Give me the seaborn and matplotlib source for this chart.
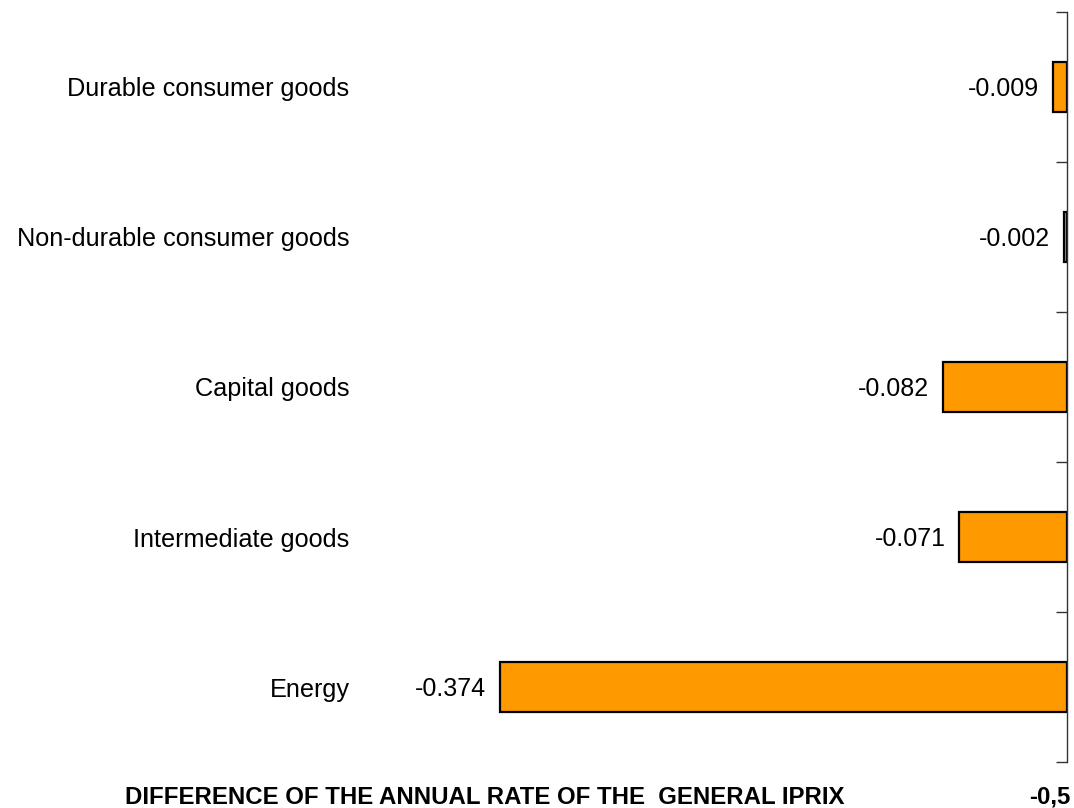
import matplotlib
matplotlib.use("Agg")
import matplotlib.pyplot as plt
import seaborn as sns
import pandas as pd
import numpy as np

categories = ["Durable consumer goods", "Non-durable consumer goods", "Capital goods",
              "Intermediate goods", "Energy"]
values = [-0.009, -0.002, -0.082, -0.071, -0.374]
value_labels = ["-0.009", "-0.002", "-0.082", "-0.071", "-0.374"]
xlabel = "DIFFERENCE OF THE ANNUAL RATE OF THE  GENERAL IPRIX"
xmin_label = "-0,5"

sns.set_style("white")
plt.rcParams['font.family'] = ['Liberation Sans', 'DejaVu Sans']
plt.rcParams['text.color'] = 'black'
plt.rcParams['ytick.color'] = 'black'

df = pd.DataFrame({"cat": categories, "val": values})

W, H = 1074, 808
fig = plt.figure(figsize=(W / 100, H / 100), dpi=100)
ax = fig.add_axes([360 / W, (H - 762) / H, (1067 - 360) / W, (762 - 12) / H])

sns.barplot(data=df, x="val", y="cat", orient="h", color="#FF9900",
            width=1 / 3, edgecolor="black", linewidth=1.6, saturation=1, ax=ax)

ax.set_xlim(-(1067 - 360) / 1516, 0)
ax.set_ylim(len(categories) - 0.5, -0.5)

for s in ["top", "left", "bottom"]:
    ax.spines[s].set_visible(False)
ax.spines["right"].set_color("#333333")
ax.spines["right"].set_linewidth(1.0)

ax.set_xticks([])
ax.set_xlabel("")
ax.set_ylabel("")
ax.set_yticks(np.arange(len(categories)))
ax.set_yticklabels(categories)
ax.tick_params(axis="y", which="major", left=False, right=False, labelleft=True,
               labelsize=18.2, pad=4, labelcolor="black")
ax.set_yticks(np.arange(len(categories) + 1) - 0.5, minor=True)
ax.tick_params(axis="y", which="minor", left=False, right=True, direction="in",
               length=8, width=1.0, color="#333333")

texts = ax.bar_label(ax.containers[0], labels=value_labels, padding=10,
                     fontsize=18, color="black")
for t in texts:
    t.set_verticalalignment("center_baseline")

fig.text(125 / W, 1 - 797 / H, xlabel, fontsize=17.3, fontweight="bold",
         ha="left", va="center", color="black")
fig.text(1071 / W, 1 - 797 / H, xmin_label, fontsize=17.3, fontweight="bold",
         ha="right", va="center", color="black")

fig.savefig("out.png", dpi=100)
